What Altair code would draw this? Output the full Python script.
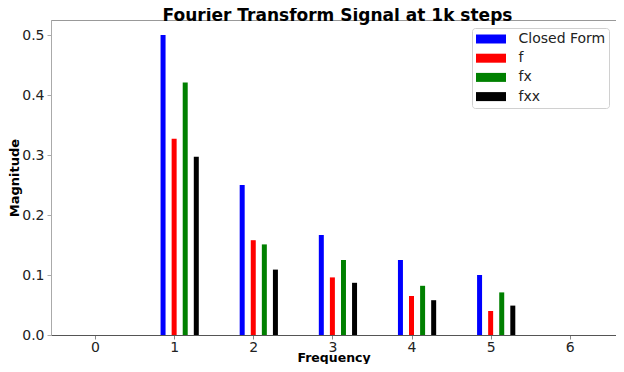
import altair as alt
import pandas as pd

freqs = [1, 2, 3, 4, 5]
series_names = ["Closed Form", "f", "fx", "fxx"]
series_colors = ["#0000ff", "#ff0000", "#008000", "#000000"]
series_offsets = [-0.14, 0.0, 0.14, 0.28]
closed_form = [0.5, 0.25, 0.1667, 0.125, 0.1]
f_vals = [0.327, 0.158, 0.096, 0.065, 0.040]
fx_vals = [0.421, 0.151, 0.125, 0.082, 0.071]
fxx_vals = [0.297, 0.109, 0.087, 0.058, 0.049]
x_ticks = [0, 1, 2, 3, 4, 5, 6]
y_ticks = [0.0, 0.1, 0.2, 0.3, 0.4, 0.5]

rows = []
for name, off, vals in zip(series_names, series_offsets, [closed_form, f_vals, fx_vals, fxx_vals]):
    for fr, v in zip(freqs, vals):
        rows.append({"series": name, "freq": fr, "offset": off, "mag": v})
df = pd.DataFrame(rows)

FONT = "DejaVu Sans"

chart = alt.Chart(df).transform_calculate(
    xpos="datum.freq + datum.offset"
).mark_bar(size=5).encode(
    x=alt.X("xpos:Q",
            scale=alt.Scale(domain=[-0.493, 6.521], nice=False, zero=False),
            axis=alt.Axis(values=x_ticks, title="Frequency", format="d",
                          grid=False, labelFontSize=14, titleFontSize=12.5,
                          titleFontWeight="bold", labelPadding=1,
                          titleY=26, titleBaseline="alphabetic",
                          tickSize=4, labelColor="#222", titleColor="#000",
                          domainColor="#555", tickColor="#888")),
    y=alt.Y("mag:Q",
            scale=alt.Scale(domain=[0, 0.525], nice=False),
            axis=alt.Axis(values=y_ticks, title="Magnitude", format=".1f",
                          grid=False, labelFontSize=14, titleFontSize=13,
                          titleFontWeight="bold", labelPadding=3,
                          titleX=-33, titleBaseline="alphabetic",
                          tickSize=4, labelColor="#222", titleColor="#000",
                          domainColor="#aaa", tickColor="#aaa")),
    color=alt.Color("series:N",
                    scale=alt.Scale(domain=series_names, range=series_colors),
                    sort=series_names,
                    legend=alt.Legend(title=None, orient="none", legendX=421, legendY=8,
                                      padding=3.5, symbolOffset=8,
                                      strokeColor="#d0d0d0", cornerRadius=3,
                                      fillColor="white", labelFontSize=14, labelOffset=20,
                                      symbolType="M-2,-0.6L2,-0.6L2,0.6L-2,0.6Z",
                                      symbolSize=225, symbolStrokeWidth=0,
                                      rowPadding=4.2, labelColor="#222")),
).properties(
    width=565, height=315,
    title=alt.TitleParams("Fourier Transform Signal at 1k steps", fontSize=17,
                          fontWeight="bold", font=FONT, anchor="middle", offset=0,
                          dy=5, dx=4, color="#000"),
    autosize=alt.AutoSizeParams(type="none"),
    padding={"left": 43, "top": 12, "right": 0, "bottom": 29},
).configure(font=FONT).configure_view(stroke="#999", strokeWidth=1)

chart.save("out.html", embed_options={"renderer": "svg", "actions": False})
